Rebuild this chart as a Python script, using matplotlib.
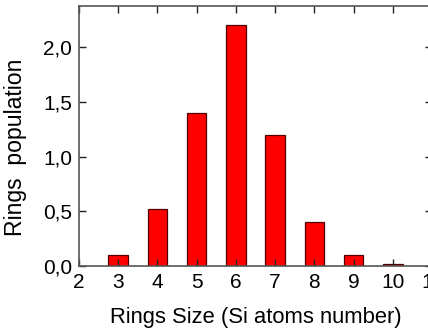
import matplotlib
matplotlib.use("Agg")
import matplotlib.pyplot as plt
from matplotlib.ticker import FuncFormatter, MultipleLocator

plt.rcParams['font.family'] = ['Liberation Sans', 'DejaVu Sans']

# ring size distribution
ring_size = [3, 4, 5, 6, 7, 8, 9, 10]
population = [0.10, 0.52, 1.40, 2.20, 1.20, 0.40, 0.10, 0.02]

fig = plt.figure(figsize=(4.28, 3.28), dpi=100)
ax = fig.add_axes([79 / 428, (328 - 266) / 328, 353 / 428, 260 / 328])

ax.bar(ring_size, population, width=0.5, color="#ff0000",
       edgecolor="#500000", linewidth=0.9, zorder=1)

ax.set_xlim(2, 11)
ax.set_ylim(0, 2.377)
ax.xaxis.set_major_locator(MultipleLocator(1))
ax.yaxis.set_major_locator(MultipleLocator(0.5))
ax.yaxis.set_major_formatter(FuncFormatter(lambda v, p: f"{v:.1f}".replace(".", ",")))

ax.tick_params(direction="in", top=True, right=True, length=5, width=1,
               labelsize=15, color="#222222", pad=5)
for s in ax.spines.values():
    s.set_color("#555555")
    s.set_linewidth(1.2)

ax.set_xlabel("Rings Size (Si atoms number)", fontsize=15.8, labelpad=11)
ax.set_ylabel("Rings  population", fontsize=16.6)
ax.yaxis.set_label_coords(-0.148, 0.455)

fig.savefig("out.png", dpi=100)
